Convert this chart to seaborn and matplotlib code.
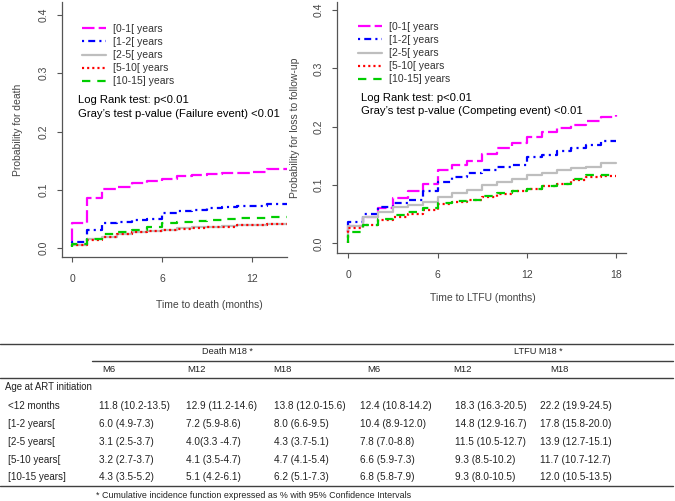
import matplotlib
matplotlib.use("Agg")
import matplotlib.pyplot as plt
import seaborn as sns
from matplotlib.lines import Line2D

sns.set_theme(style="white")
plt.rcParams['font.family'] = ['Liberation Sans', 'DejaVu Sans']
plt.rcParams['lines.scale_dashes'] = False

# ---- data ----
groups = ["[0-1[ years", "[1-2[ years", "[2-5[ years", "[5-10[ years", "[10-15] years"]

death_t = [0, 0, 1, 2, 3, 4, 5, 6, 7, 8, 9, 10, 11, 12, 13, 14.3]
death_01 = [0.012, 0.044, 0.086, 0.101, 0.105, 0.112, 0.116, 0.118, 0.123, 0.125, 0.127, 0.129, 0.129, 0.130, 0.135, 0.135]
death_12 = [0.009, 0.011, 0.032, 0.043, 0.045, 0.049, 0.050, 0.060, 0.064, 0.066, 0.069, 0.071, 0.072, 0.072, 0.076, 0.076]
death_25 = [0.004, 0.006, 0.015, 0.020, 0.025, 0.028, 0.030, 0.032, 0.034, 0.036, 0.037, 0.038, 0.039, 0.040, 0.041, 0.041]
death_510 = [0.004, 0.006, 0.014, 0.019, 0.024, 0.027, 0.029, 0.031, 0.033, 0.035, 0.036, 0.037, 0.039, 0.040, 0.042, 0.042]
death_1015 = [0.002, 0.008, 0.016, 0.024, 0.028, 0.032, 0.036, 0.043, 0.045, 0.047, 0.049, 0.050, 0.051, 0.052, 0.054, 0.054]

ltfu_t = [0, 0, 1, 2, 3, 4, 5, 6, 7, 8, 9, 10, 11, 12, 13, 14, 15, 16, 17, 18]
ltfu_01 = [0.020, 0.030, 0.045, 0.060, 0.077, 0.089, 0.101, 0.126, 0.134, 0.141, 0.154, 0.163, 0.172, 0.183, 0.191, 0.197, 0.203, 0.209, 0.217, 0.220]
ltfu_12 = [0.020, 0.037, 0.050, 0.062, 0.069, 0.074, 0.089, 0.105, 0.113, 0.120, 0.126, 0.131, 0.135, 0.148, 0.151, 0.159, 0.163, 0.169, 0.175, 0.175]
ltfu_25 = [0.010, 0.029, 0.045, 0.054, 0.062, 0.066, 0.071, 0.079, 0.086, 0.091, 0.100, 0.106, 0.111, 0.117, 0.120, 0.126, 0.129, 0.131, 0.137, 0.137]
ltfu_510 = [0.000, 0.026, 0.031, 0.040, 0.046, 0.051, 0.058, 0.067, 0.071, 0.075, 0.079, 0.085, 0.089, 0.093, 0.098, 0.102, 0.109, 0.113, 0.115, 0.115]
ltfu_1015 = [0.000, 0.020, 0.031, 0.041, 0.048, 0.054, 0.060, 0.069, 0.072, 0.075, 0.081, 0.087, 0.090, 0.094, 0.098, 0.102, 0.110, 0.117, 0.118, 0.118]

row_labels = ["<12 months", "[1-2 years[", "[2-5 years[", "[5-10 years[", "[10-15 years]"]
death_m6 = ["11.8 (10.2-13.5)", "6.0 (4.9-7.3)", "3.1 (2.5-3.7)", "3.2 (2.7-3.7)", "4.3 (3.5-5.2)"]
death_m12 = ["12.9 (11.2-14.6)", "7.2 (5.9-8.6)", "4.0(3.3 -4.7)", "4.1 (3.5-4.7)", "5.1 (4.2-6.1)"]
death_m18 = ["13.8 (12.0-15.6)", "8.0 (6.6-9.5)", "4.3 (3.7-5.1)", "4.7 (4.1-5.4)", "6.2 (5.1-7.3)"]
ltfu_m6 = ["12.4 (10.8-14.2)", "10.4 (8.9-12.0)", "7.8 (7.0-8.8)", "6.6 (5.9-7.3)", "6.8 (5.8-7.9)"]
ltfu_m12 = ["18.3 (16.3-20.5)", "14.8 (12.9-16.7)", "11.5 (10.5-12.7)", "9.3 (8.5-10.2)", "9.3 (8.0-10.5)"]
ltfu_m18 = ["22.2 (19.9-24.5)", "17.8 (15.8-20.0)", "13.9 (12.7-15.1)", "11.7 (10.7-12.7)", "12.0 (10.5-13.5)"]

colors = ["#FF00FF", "#0000FF", "#BEBEBE", "#FF0000", "#00CD00"]
styles = [(0, (9, 3)), (0, (1.5, 3, 5, 3)), "-", (0, (1.5, 2.2)), (0, (6, 5))]

W, H = 675, 501
fig = plt.figure(figsize=(W / 100, H / 100), dpi=100)


def fx(x):
    return x / W


def fy(y):
    return 1 - y / H


def km_panel(ax, t, curves, xticks, xlim, ylim, xlabel, ylabel, xlab_pos, ylab_pos,
             leg_anchor, texts):
    for vals, col, ls in zip(curves, colors, styles):
        sns.lineplot(x=t, y=vals, ax=ax, color=col, linestyle=ls, linewidth=1.6,
                     drawstyle="steps-post", estimator=None, sort=False)
    ax.set_xlim(*xlim)
    ax.set_ylim(*ylim)
    ax.set_xticks(xticks)
    ax.set_yticks([0.0, 0.1, 0.2, 0.3, 0.4])
    ax.set_yticklabels(["0.0", "0.1", "0.2", "0.3", "0.4"])
    for s in ["top", "right"]:
        ax.spines[s].set_visible(False)
    for s in ["left", "bottom"]:
        ax.spines[s].set_color("#555555")
        ax.spines[s].set_linewidth(0.9)
    ax.tick_params(axis="both", direction="out", length=3.5, width=0.8, color="#555555",
                   labelsize=7.5, labelcolor="#444444", left=True, bottom=True)
    ax.tick_params(axis="x", pad=9)
    ax.tick_params(axis="y", pad=6, labelrotation=90)
    for lbl in ax.get_yticklabels():
        lbl.set_va("center")
    ax.set_xlabel(xlabel, fontsize=7.5, color="#444444")
    ax.set_ylabel(ylabel, fontsize=7.5, color="#444444")
    ax.xaxis.set_label_coords(*xlab_pos)
    ax.yaxis.set_label_coords(*ylab_pos)
    handles = [Line2D([0], [0], color=c, linestyle=ls, linewidth=1.6)
               for c, ls in zip(colors, styles)]
    ax.legend(handles, groups, loc="upper left", bbox_to_anchor=leg_anchor, frameon=False,
              fontsize=7.5, handlelength=2.3, handletextpad=0.7, labelspacing=0.3,
              borderpad=0, borderaxespad=0, labelcolor="#333333")
    for (x, y, s) in texts:
        fig.text(fx(x), fy(y), s, fontsize=8.1, color="black", va="center", ha="left")


# left panel: death
ax1 = fig.add_axes([fx(62), fy(257), (287 - 62) / W, (257 - 2) / H])
km_panel(ax1, death_t, [death_01, death_12, death_25, death_510, death_1015],
         [0, 6, 12], (-0.68, 14.3), (-0.015, 0.422),
         "Time to death (months)", "Probability for death",
         ((209 - 62) / 225, -(300 - 257) / 255), ((23 - 62) / 225, (257 - 130) / 255),
         ((82 - 62) / 225, (257 - 24) / 255),
         [(78, 100, "Log Rank test: p<0.01"),
          (78, 114, "Gray\u2019s test p-value (Failure event) <0.01")])

# right panel: LTFU
ax2 = fig.add_axes([fx(337), fy(253), (626 - 337) / W, (253 - 2) / H])
km_panel(ax2, ltfu_t, [ltfu_01, ltfu_12, ltfu_25, ltfu_510, ltfu_1015],
         [0, 6, 12, 18], (-0.76, 18.67), (-0.0166, 0.414),
         "Time to LTFU (months)", "Probability for loss to follow-up",
         ((483 - 337) / 289, -(293 - 253) / 251), ((300 - 337) / 289, (253 - 128) / 251),
         ((358 - 337) / 289, (253 - 22) / 251),
         [(361, 98, "Log Rank test: p<0.01"),
          (361, 111, "Gray\u2019s test p-value (Competing event) <0.01")])

# ---- table ----
rule_col = "#404040"
txt_col = "#222222"


def hrule(x0, x1, y, lw=1.0):
    fig.add_artist(Line2D([fx(x0), fx(x1)], [fy(y), fy(y)], color=rule_col, linewidth=lw,
                          transform=fig.transFigure))


hrule(0, 673, 344)
hrule(92, 673, 361)
hrule(0, 673, 378)
hrule(0, 673, 486)

fig.text(fx(227), fy(351), "Death M18 *", fontsize=6.6, ha="center", va="center", color=txt_col)
fig.text(fx(538), fy(351), "LTFU M18 *", fontsize=6.6, ha="center", va="center", color=txt_col)
head_x = [102, 187, 273, 367, 453, 550]
for x, s in zip(head_x, ["M6", "M12", "M18", "M6", "M12", "M18"]):
    fig.text(fx(x), fy(369.5), s, fontsize=6.8, ha="left", va="center", color=txt_col)

fig.text(fx(5), fy(387), "Age at ART initiation", fontsize=6.9, ha="left", va="center", color=txt_col)
row_y = [406, 424, 442, 460, 477]
col_x = [99, 186, 274, 360, 455, 540]
cols = [death_m6, death_m12, death_m18, ltfu_m6, ltfu_m12, ltfu_m18]
for i, y in enumerate(row_y):
    fig.text(fx(8), fy(y), row_labels[i], fontsize=7.1, ha="left", va="center", color=txt_col)
    for x, col in zip(col_x, cols):
        fig.text(fx(x), fy(y), col[i], fontsize=7.2, ha="left", va="center", color=txt_col)

fig.text(fx(96), fy(495), "* Cumulative incidence function expressed as % with 95% Confidence Intervals",
         fontsize=6.4, ha="left", va="center", color=txt_col)

fig.savefig("out.png", dpi=100)
